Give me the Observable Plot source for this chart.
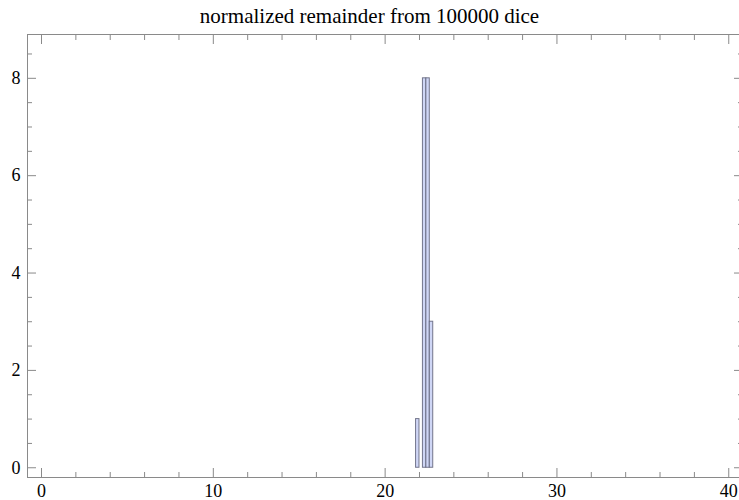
<!DOCTYPE html>
<html><head><meta charset="utf-8">
<script src="https://cdn.jsdelivr.net/npm/d3@7"></script>
<script src="https://cdn.jsdelivr.net/npm/@observablehq/plot@0.6"></script>
<style>
body{margin:0;background:#fff;}
#title{font-family:"Liberation Serif","Times New Roman",Tinos,"DejaVu Serif",serif;font-size:21px;text-align:center;width:739px;height:30px;line-height:32px;color:#000;}
#chart svg{display:block;}
</style>
</head><body>
<div id="title"></div>
<div id="chart"></div>
<script>
const titleText = "normalized remainder from 100000 dice";
// histogram bins (left edge, right edge) and counts
const binLeft = [21.8, 22.2, 22.4, 22.6];
const binRight = [22.0, 22.4, 22.6, 22.8];
const counts = [1, 8, 8, 3];
// ticks
const xMajor = [0, 10, 20, 30, 40];
const xMinor = [2, 4, 6, 8, 12, 14, 16, 18, 22, 24, 26, 28, 32, 34, 36, 38];
const yMajor = [0, 2, 4, 6, 8];
const yMinor = [0.5, 1, 1.5, 2.5, 3, 3.5, 4.5, 5, 5.5, 6.5, 7, 7.5, 8.5];

document.getElementById("title").textContent = titleText;

const bins = binLeft.map((l, i) => ({lo: l, hi: binRight[i], n: counts[i]}));
const frameColor = "#8a8a8a";
const serif = "'Liberation Serif', 'Times New Roman', Tinos, 'DejaVu Serif', serif";

const chart = Plot.plot({
  width: 739,
  height: 470,
  marginLeft: 27,
  marginRight: -3,
  marginTop: 4,
  marginBottom: 23,
  style: {fontFamily: serif, fontSize: "18px", color: "#000", background: "#fff"},
  x: {domain: [-0.815, 40.8], label: null},
  y: {domain: [-0.2, 8.9], label: null},
  marks: [
    Plot.rectY(bins, {x1: "lo", x2: "hi", y: "n", fill: "#cfd6f5", stroke: "#5f6279", strokeWidth: 1, strokeOpacity: 0.85}),
    Plot.frame({stroke: frameColor}),
    // bottom
    Plot.axisX(xMajor, {anchor: "bottom", tickSize: -9, stroke: frameColor, fill: "none", label: null}),
    Plot.axisX(xMinor, {anchor: "bottom", tickSize: -5, stroke: frameColor, fill: "none", label: null}),
    Plot.axisX(xMajor, {anchor: "bottom", tickSize: 0, tickPadding: 7, fill: "#000", fontFamily: serif, fontSize: 18, tickFormat: d => String(d), label: null}),
    // top
    Plot.axisX(xMajor, {anchor: "top", tickSize: -9, stroke: frameColor, fill: "none", label: null}),
    Plot.axisX(xMinor, {anchor: "top", tickSize: -5, stroke: frameColor, fill: "none", label: null}),
    // left
    Plot.axisY(yMajor, {anchor: "left", tickSize: -9, stroke: frameColor, fill: "none", label: null}),
    Plot.axisY(yMinor, {anchor: "left", tickSize: -5, stroke: frameColor, fill: "none", label: null}),
    Plot.axisY(yMajor, {anchor: "left", tickSize: 0, tickPadding: 7, fill: "#000", fontFamily: serif, fontSize: 18, tickFormat: d => String(d), label: null}),
    // right
    Plot.axisY(yMajor, {anchor: "right", tickSize: -9, stroke: frameColor, fill: "none", label: null}),
    Plot.axisY(yMinor, {anchor: "right", tickSize: -5, stroke: frameColor, fill: "none", label: null})
  ]
});
document.getElementById("chart").appendChild(chart);
</script>
</body></html>
